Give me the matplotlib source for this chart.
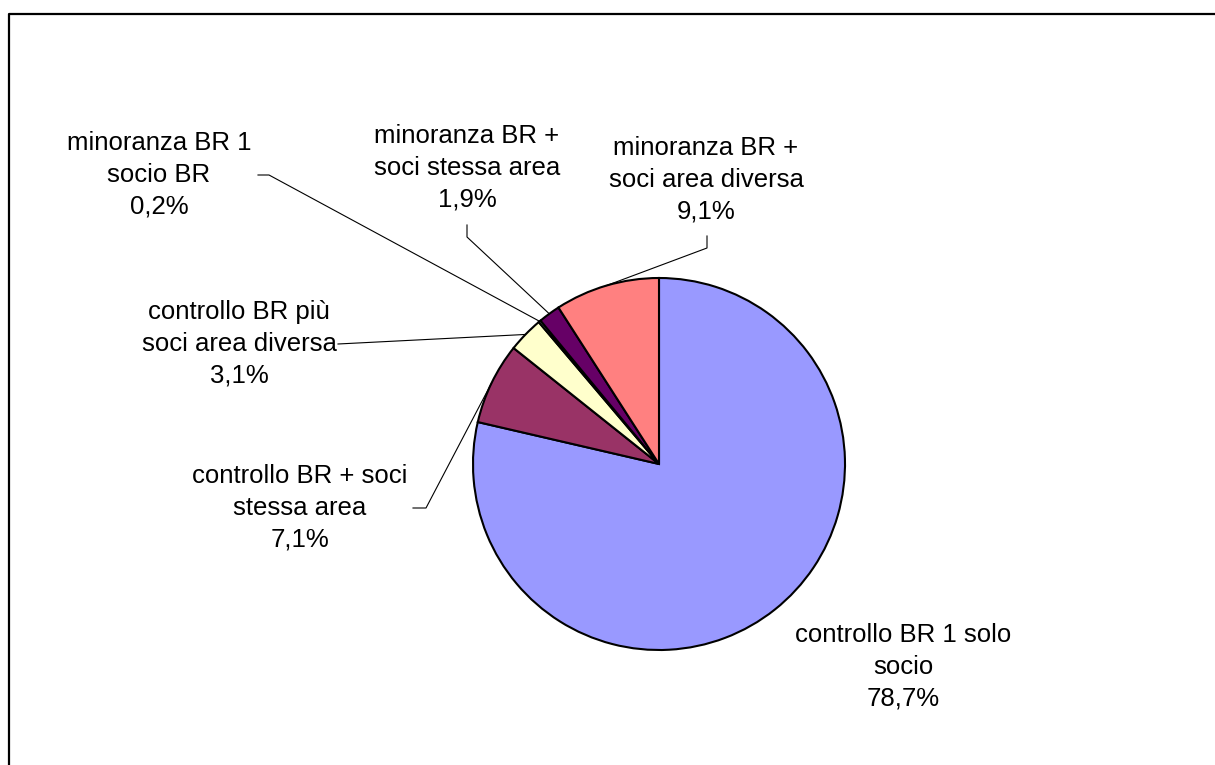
import numpy as np
import matplotlib.pyplot as plt

plt.rcParams['font.family'] = ['Liberation Sans', 'DejaVu Sans']

labels = ["controllo BR 1 solo\nsocio", "controllo BR + soci\nstessa area",
          "controllo BR più\nsoci area diversa", "minoranza BR 1\nsocio BR",
          "minoranza BR +\nsoci stessa area", "minoranza BR +\nsoci area diversa"]
values = [78.7, 7.1, 3.1, 0.2, 1.9, 9.1]
pct_text = ["78,7%", "7,1%", "3,1%", "0,2%", "1,9%", "9,1%"]
colors = ["#9999FF", "#993366", "#FFFFCC", "#CCFFFF", "#660066", "#FF8080"]

W, H = 1215, 765
fig = plt.figure(figsize=(12.15, 7.65), dpi=100)
ax = fig.add_axes([0, 0, 1, 1])

# pie in pixel-like coords (y up)
cx, cy, r = 659, H - 464, 186
wedges, _ = ax.pie(values, colors=colors, startangle=90, counterclock=False,
                   center=(cx, cy), radius=r,
                   wedgeprops=dict(edgecolor='black', linewidth=1.5))
ax.set_xlim(0, W)
ax.set_ylim(0, H)
ax.axis('off')

# label centre (x, middle line y in screen px) and leader points before the wedge edge
label_pos = [(903, 667), (300, 508), (239, 344), (159, 175), (467, 168), (706, 180)]
leaders = [None,
           [(413, 508), (426, 508)],
           [(338, 344)],
           [(258, 175), (269, 175)],
           [(467, 225), (467, 237)],
           [(707, 236), (707, 248)]]

for w, lab, pct, pos, lead in zip(wedges, labels, pct_text, label_pos, leaders):
    ax.text(pos[0], H - pos[1], lab + "\n" + pct, ha='center', va='center',
            multialignment='center', fontsize=18.5, linespacing=1.4, color='black')
    if lead is None:
        continue
    mid = np.deg2rad((w.theta1 + w.theta2) / 2)
    ex, ey = cx + r * np.cos(mid), cy + r * np.sin(mid)
    xs = [p[0] for p in lead] + [ex]
    ys = [H - p[1] for p in lead] + [ey]
    ax.plot(xs, ys, color='black', linewidth=0.8)

# chart frame (only top and left visible)
ax.plot([9, 9, W], [0, H - 14, H - 14], color='black', linewidth=1.6, clip_on=False)

fig.savefig('out.png', dpi=100, facecolor='white')
